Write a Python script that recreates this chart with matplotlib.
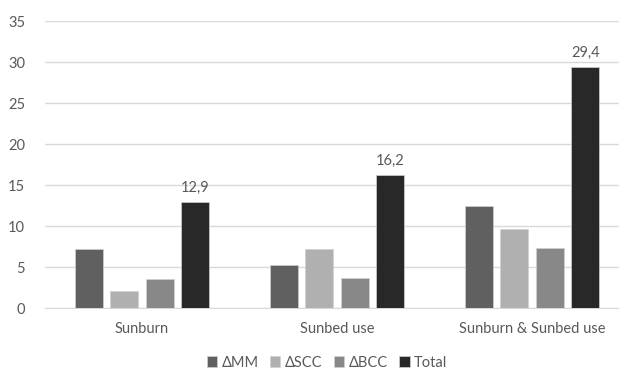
import matplotlib.pyplot as plt
import numpy as np

categories = ["Sunburn", "Sunbed use", "Sunburn & Sunbed use"]
series_names = ["ΔMM", "ΔSCC", "ΔBCC", "Total"]
delta_mm = [7.2, 5.3, 12.4]
delta_scc = [2.1, 7.2, 9.6]
delta_bcc = [3.6, 3.7, 7.3]
total = [12.9, 16.2, 29.4]
total_labels = ["12,9", "16,2", "29,4"]

colors = ["#606060", "#b0b0b0", "#888888", "#282828"]
text_color = "#595959"

plt.rcParams["font.family"] = ["Lato", "DejaVu Sans"]

fig = plt.figure(figsize=(6.19, 3.73), dpi=100)
ax = fig.add_axes([0.0719, 0.174, 0.945, 0.769])

x = np.arange(len(categories))
width = 0.142
step = 0.182
values = [delta_mm, delta_scc, delta_bcc, total]
for i, (name, vals) in enumerate(zip(series_names, values)):
    offset = (i - 1.5) * step
    bars = ax.bar(x + offset, vals, width, color=colors[i], label=name,
                  edgecolor="#d0d0d0", linewidth=0.5, zorder=3)
    if name == "Total":
        for bar, lab in zip(bars, total_labels):
            ax.text(bar.get_x() + bar.get_width() / 2, bar.get_height() + 0.9,
                    lab, ha="center", va="bottom", fontsize=10.5, color=text_color)

ax.set_xlim(-0.5, 2.5)
ax.set_ylim(0, 35)
ax.set_yticks(np.arange(0, 36, 5))
ax.set_xticks(x)
ax.set_xticklabels(categories)
ax.tick_params(axis="both", length=0, labelsize=10.5, colors=text_color)
ax.tick_params(axis="x", pad=10)
ax.tick_params(axis="y", pad=14)
ax.grid(axis="y", color="#d9d9d9", linewidth=1, zorder=0)
for side in ["top", "right", "left"]:
    ax.spines[side].set_visible(False)
ax.spines["bottom"].set_color("#d9d9d9")

ax.legend(loc="upper center", bbox_to_anchor=(0.483, -0.12), ncol=4, frameon=False,
          fontsize=10.5, labelcolor=text_color, handlelength=0.7, handleheight=0.7,
          handletextpad=0.3, columnspacing=0.8)

fig.savefig("out.png", dpi=100)
